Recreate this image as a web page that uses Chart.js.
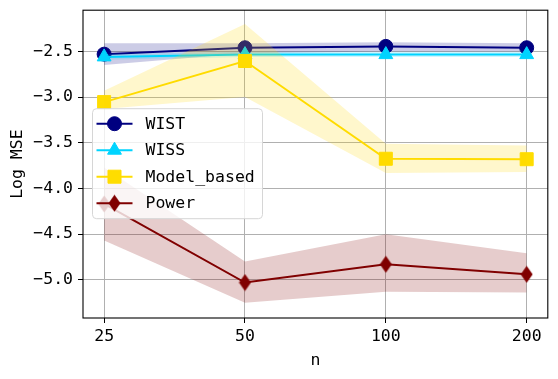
<!DOCTYPE html>
<html>
<head>
<meta charset="utf-8">
<script src="https://cdn.jsdelivr.net/npm/chart.js@4.4.0/dist/chart.umd.min.js"></script>
<style>
html, body { margin: 0; padding: 0; background: #fff; }
</style>
</head>
<body>
<canvas id="mseChart" width="558" height="379"></canvas>
<script>
// sample sizes on the x axis (equally spaced)
const nLabels = ['25', '50', '100', '200'];
const yTickValues = [-5.0, -4.5, -4.0, -3.5, -3.0, -2.5];

// mean log MSE and the shaded band (upper / lower) per method
const wist = [-2.53, -2.46, -2.445, -2.46];
const wistHi = [-2.41, -2.41, -2.40, -2.41];
const wistLo = [-2.65, -2.52, -2.50, -2.50];

const wiss = [-2.56, -2.535, -2.535, -2.535];
const wissHi = [-2.53, -2.505, -2.505, -2.505];
const wissLo = [-2.59, -2.56, -2.56, -2.56];

const modelBased = [-3.055, -2.605, -3.675, -3.68];
const modelBasedHi = [-2.93, -2.20, -3.51, -3.53];
const modelBasedLo = [-3.13, -3.00, -3.83, -3.82];

const power = [-4.17, -5.03, -4.83, -4.94];
const powerHi = [-3.77, -4.80, -4.50, -4.71];
const powerLo = [-4.57, -5.25, -5.13, -5.14];

const FONT = "'DejaVu Sans Mono', monospace";

// thin diamond like matplotlib's 'd'
function thinDiamond(color) {
    var c = document.createElement('canvas');
    c.width = 13; c.height = 18;
    var g = c.getContext('2d');
    g.fillStyle = color;
    g.beginPath();
    g.moveTo(6.5, 0.5);
    g.lineTo(12.5, 9);
    g.lineTo(6.5, 17.5);
    g.lineTo(0.5, 9);
    g.closePath();
    g.fill();
    return c;
}

function pts(arr) {
    return arr.map((v, i) => ({x: i, y: v}));
}

const series = [
    {name: 'WIST', color: '#000080', band: 'rgba(0,0,128,0.2)', mean: wist, hi: wistHi, lo: wistLo, style: 'circle', radius: 7},
    {name: 'WISS', color: '#00d4ff', band: 'rgba(0,212,255,0.2)', mean: wiss, hi: wissHi, lo: wissLo, style: 'triangle', radius: 8},
    {name: 'Model_based', color: '#ffdd00', band: 'rgba(255,215,0,0.2)', mean: modelBased, hi: modelBasedHi, lo: modelBasedLo, style: 'rect', radius: 9.2},
    {name: 'Power', color: '#800000', band: 'rgba(128,0,0,0.2)', mean: power, hi: powerHi, lo: powerLo, style: thinDiamond('#800000'), radius: 8}
];

var datasets = [];
series.forEach(function (s, k) {
    var ord = series.length - k;
    datasets.push({
        label: s.name + ' upper', data: pts(s.hi), borderWidth: 0, pointRadius: 0,
        backgroundColor: s.band, fill: '+1', order: ord, tension: 0
    });
    datasets.push({
        label: s.name + ' lower', data: pts(s.lo), borderWidth: 0, pointRadius: 0,
        backgroundColor: s.band, fill: false, order: ord, tension: 0
    });
    datasets.push({
        label: s.name, data: pts(s.mean), borderColor: s.color, backgroundColor: s.color,
        borderWidth: 2, pointStyle: s.style, pointRadius: s.radius, pointHoverRadius: s.radius,
        pointBorderWidth: 1, fill: false, order: ord, tension: 0
    });
});

function drawMarker(ctx, s, x, y) {
    ctx.fillStyle = s.color;
    ctx.strokeStyle = s.color;
    ctx.lineWidth = 1;
    if (typeof s.style !== 'string') {
        ctx.drawImage(s.style, x - s.style.width / 2, y - s.style.height / 2);
        return;
    }
    ctx.beginPath();
    if (s.style === 'circle') {
        ctx.arc(x, y, s.radius, 0, Math.PI * 2);
    } else if (s.style === 'triangle') {
        var r = s.radius;
        ctx.moveTo(x, y - r);
        ctx.lineTo(x + r * Math.sin(Math.PI / 3), y + r / 2);
        ctx.lineTo(x - r * Math.sin(Math.PI / 3), y + r / 2);
        ctx.closePath();
    } else {
        var h = s.radius * Math.SQRT1_2;
        ctx.rect(x - h, y - h, h * 2, h * 2);
    }
    ctx.fill();
    ctx.stroke();
}

// legend box inside the plot, upper-left area
const insideLegend = {
    id: 'insideLegend',
    afterDatasetsDraw(chart) {
        var ctx = chart.ctx, a = chart.chartArea;
        var x0 = a.left + 9.5, y0 = a.top + 98.5, w = 170, h = 110, rr = 4;
        ctx.save();
        // frame around the axes
        ctx.strokeStyle = '#000';
        ctx.lineWidth = 1.1;
        ctx.strokeRect(a.left, a.top, a.right - a.left, a.bottom - a.top);

        ctx.beginPath();
        ctx.moveTo(x0 + rr, y0);
        ctx.arcTo(x0 + w, y0, x0 + w, y0 + h, rr);
        ctx.arcTo(x0 + w, y0 + h, x0, y0 + h, rr);
        ctx.arcTo(x0, y0 + h, x0, y0, rr);
        ctx.arcTo(x0, y0, x0 + w, y0, rr);
        ctx.closePath();
        ctx.fillStyle = 'rgba(255,255,255,0.8)';
        ctx.fill();
        ctx.strokeStyle = '#d6d6d6';
        ctx.lineWidth = 1;
        ctx.stroke();

        series.forEach(function (s, i) {
            var cy = y0 + 15 + i * 26.5;
            ctx.strokeStyle = s.color;
            ctx.lineWidth = 2;
            ctx.beginPath();
            ctx.moveTo(x0 + 4, cy);
            ctx.lineTo(x0 + 40, cy);
            ctx.stroke();
            drawMarker(ctx, s, x0 + 22, cy);
            ctx.fillStyle = '#000';
            ctx.font = '16.5px ' + FONT;
            ctx.textAlign = 'left';
            ctx.textBaseline = 'middle';
            ctx.fillText(s.name, x0 + 53, cy + 1);
        });
        ctx.restore();
    }
};

Chart.defaults.font.family = FONT;
Chart.defaults.font.size = 16.5;
Chart.defaults.color = '#000';

var ctx = document.getElementById('mseChart').getContext('2d');
var mseChart = new Chart(ctx, {
    type: 'line',
    data: {datasets: datasets},
    options: {
        responsive: false,
        animation: false,
        events: [],
        layout: {padding: {left: 0, right: 10, top: 10, bottom: 0}},
        plugins: {legend: {display: false}, tooltip: {enabled: false}},
        scales: {
            x: {
                type: 'linear',
                min: -0.15,
                max: 3.15,
                afterFit: function (s) { s.height = 61; s.paddingLeft = 0; s.paddingRight = 0; },
                afterBuildTicks: function (s) { s.ticks = nLabels.map((_, i) => ({value: i})); },
                ticks: {
                    callback: v => nLabels[v],
                    padding: 4,
                    maxRotation: 0,
                    autoSkip: false
                },
                grid: {color: '#b0b0b0', lineWidth: 1, tickLength: 5, tickColor: '#000'},
                border: {display: false},
                title: {display: true, text: 'n', padding: {top: 0, bottom: 8}}
            },
            y: {
                type: 'linear',
                min: -5.418,
                max: -2.049,
                afterFit: function (s) { s.width = 83; s.paddingTop = 0; s.paddingBottom = 0; },
                afterBuildTicks: function (s) { s.ticks = yTickValues.map(v => ({value: v})); },
                ticks: {
                    callback: v => (v < 0 ? '\u2212' : '') + Math.abs(v).toFixed(1),
                    padding: 5
                },
                grid: {color: '#b0b0b0', lineWidth: 1, tickLength: 5, tickColor: '#000'},
                border: {display: false},
                title: {display: true, text: 'Log MSE', padding: {top: 8, bottom: 0}}
            }
        }
    },
    plugins: [insideLegend]
});
</script>
</body>
</html>
